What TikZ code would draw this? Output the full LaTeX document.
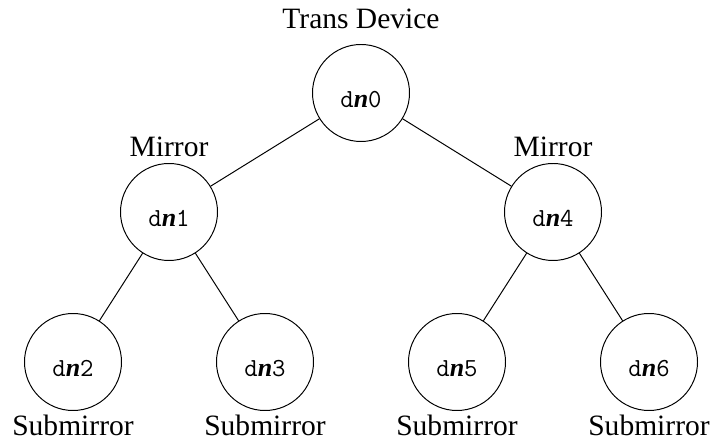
\documentclass[tikz,border=0pt]{standalone}
\usepackage{fontspec}
\setmainfont{Liberation Serif}
\usetikzlibrary{positioning}
\newcommand{\dn}[1]{{\fontsize{18.5}{22}\selectfont\texttt{d}\textbf{\textit{n}}\texttt{#1}}}
\begin{document}
\begin{tikzpicture}[x=1cm,y=1cm,
    dev/.style={circle,draw,line width=0.7pt,minimum size=2.425cm,inner sep=0pt,
      text height=0.75cm,text depth=0pt},
    role/.style={inner sep=0pt,font=\fontsize{21}{25}\selectfont},
    link/.style={line width=0.7pt}]
  \useasboundingbox (0,0) rectangle (17.95,11);
  % devices
  \node[dev] (dn0) at (9.025,8.675) {\dn{0}};
  \node[dev] (dn1) at (4.225,5.7) {\dn{1}};
  \node[dev] (dn4) at (13.825,5.7) {\dn{4}};
  \node[dev] (dn2) at (1.825,1.95) {\dn{2}};
  \node[dev] (dn3) at (6.625,1.95) {\dn{3}};
  \node[dev] (dn5) at (11.425,1.95) {\dn{5}};
  \node[dev] (dn6) at (16.225,1.95) {\dn{6}};
  % roles
  \node[role,above=0.375cm of dn0] (trans) {Trans Device};
  \node[role,above=0.16cm of dn1] (mirA) {Mirror};
  \node[role,above=0.16cm of dn4] (mirB) {Mirror};
  \node[role,below=0.1cm of dn2] (subA) {Submirror};
  \node[role,below=0.1cm of dn3] (subB) {Submirror};
  \node[role,below=0.1cm of dn5] (subC) {Submirror};
  \node[role,below=0.1cm of dn6] (subD) {Submirror};
  % tree
  \draw[link] (dn0)--(dn1);
  \draw[link] (dn0)--(dn4);
  \draw[link] (dn1)--(dn2);
  \draw[link] (dn1)--(dn3);
  \draw[link] (dn4)--(dn5);
  \draw[link] (dn4)--(dn6);
\end{tikzpicture}
\end{document}
